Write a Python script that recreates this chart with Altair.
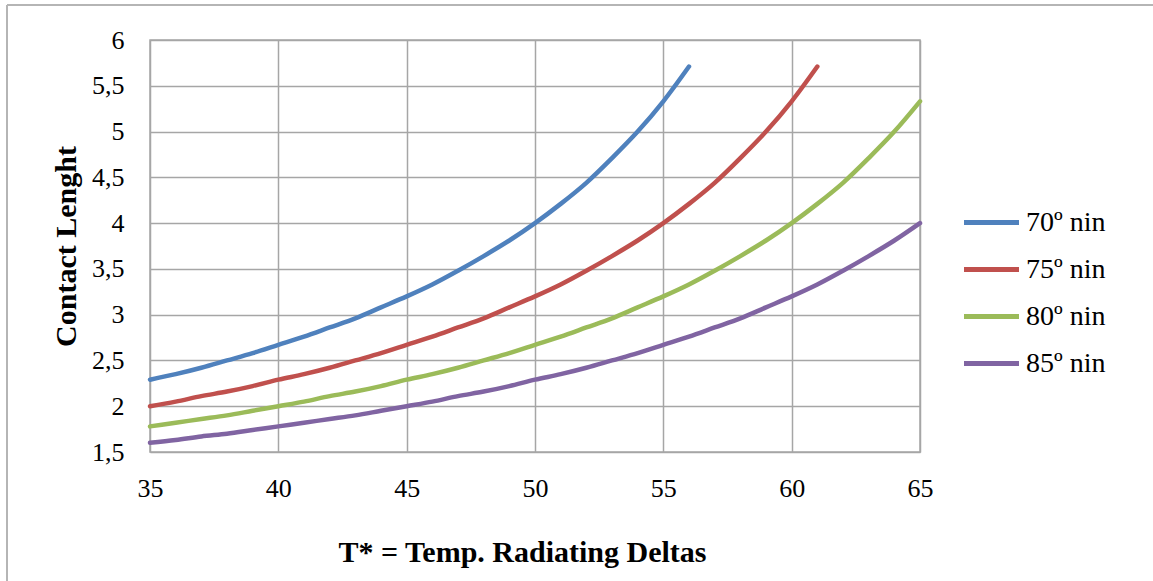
import altair as alt
import pandas as pd

series_names = ["70º nin", "75º nin", "80º nin", "85º nin"]
colors = ["#4F81BD", "#C0504D", "#9BBB59", "#8064A2"]

x_70 = list(range(35, 57))
y_70 = [2.29, 2.35, 2.42, 2.50, 2.58, 2.67, 2.76, 2.86, 2.96, 3.08, 3.20,
        3.33, 3.48, 3.64, 3.81, 4.00, 4.21, 4.44, 4.71, 5.00, 5.33, 5.71]

x_75 = list(range(35, 62))
y_75 = [2.00, 2.05, 2.11, 2.16, 2.22, 2.29, 2.35, 2.42, 2.50, 2.58, 2.67,
        2.76, 2.86, 2.96, 3.08, 3.20, 3.33, 3.48, 3.64, 3.81, 4.00, 4.21,
        4.44, 4.71, 5.00, 5.33, 5.71]

x_80 = list(range(35, 66))
y_80 = [1.78, 1.82, 1.86, 1.90, 1.95, 2.00, 2.05, 2.11, 2.16, 2.22, 2.29,
        2.35, 2.42, 2.50, 2.58, 2.67, 2.76, 2.86, 2.96, 3.08, 3.20, 3.33,
        3.48, 3.64, 3.81, 4.00, 4.21, 4.44, 4.71, 5.00, 5.33]

x_85 = list(range(35, 66))
y_85 = [1.60, 1.63, 1.67, 1.70, 1.74, 1.78, 1.82, 1.86, 1.90, 1.95, 2.00,
        2.05, 2.11, 2.16, 2.22, 2.29, 2.35, 2.42, 2.50, 2.58, 2.67, 2.76,
        2.86, 2.96, 3.08, 3.20, 3.33, 3.48, 3.64, 3.81, 4.00]

x_ticks = [35, 40, 45, 50, 55, 60, 65]
y_ticks = [1.5, 2, 2.5, 3, 3.5, 4, 4.5, 5, 5.5, 6]

rows = []
for name, xs, ys in zip(series_names, [x_70, x_75, x_80, x_85], [y_70, y_75, y_80, y_85]):
    for xv, yv in zip(xs, ys):
        rows.append({"T": xv, "L": yv, "series": name})
df = pd.DataFrame(rows)

FONT = "Liberation Serif"
GRID = "#a6a6a6"

lines = alt.Chart(df).mark_line(strokeWidth=4.5, strokeCap="round", strokeJoin="round",
                                interpolate="monotone").encode(
    x=alt.X("T:Q", scale=alt.Scale(domain=[35, 65], nice=False),
            axis=alt.Axis(values=x_ticks, title="T* = Temp. Radiating Deltas",
                          grid=True, gridColor=GRID, gridWidth=1.5,
                          domain=False, ticks=False, tickSize=0,
                          labelFlush=False, labelBound=False, labelOverlap=False,
                          labelFont=FONT, labelFontSize=26, labelColor="#000000",
                          labelBaseline="alphabetic", labelPadding=44,
                          titleFont=FONT, titleFontSize=30, titleFontWeight="bold",
                          titleColor="#000000", titleX=372, titleY=109,
                          titleAlign="center", titleBaseline="alphabetic")),
    y=alt.Y("L:Q", scale=alt.Scale(domain=[1.5, 6], nice=False, zero=False),
            axis=alt.Axis(values=y_ticks, title="Contact Lenght",
                          labelExpr="replace(format(datum.value, '.1~f'), '.', ',')",
                          grid=True, gridColor=GRID, gridWidth=1.5,
                          domain=False, ticks=False, tickSize=0,
                          labelFlush=False, labelBound=False, labelOverlap=False,
                          labelFont=FONT, labelFontSize=26, labelColor="#000000",
                          labelPadding=26,
                          titleFont=FONT, titleFontSize=30, titleFontWeight="bold",
                          titleColor="#000000", titleAngle=-90, titleX=-75, titleY=206,
                          titleAlign="center", titleBaseline="alphabetic")),
    color=alt.Color("series:N", scale=alt.Scale(domain=series_names, range=colors),
                    legend=alt.Legend(title=None, orient="none", legendX=825, legendY=166,
                                      symbolType="M-2,0H2", symbolSize=756,
                                      symbolStrokeWidth=5, rowPadding=16,
                                      labelFont=FONT, labelFontSize=28, labelColor="#000000",
                                      labelOffset=18)),
)

frame_left = alt.Chart(df).mark_rule(color="#b5b5b5", strokeWidth=2).encode(
    x=alt.value(-143), y=alt.value(-35), y2=alt.value(560))
frame_top = alt.Chart(df).mark_rule(color="#b5b5b5", strokeWidth=2).encode(
    x=alt.value(-143), x2=alt.value(1010), y=alt.value(-35))

chart = alt.layer(frame_left, frame_top, lines).properties(
    width=770, height=412,
    autosize=alt.AutoSizeParams(type="none"),
    padding={"left": 150, "top": 40, "right": 233, "bottom": 129},
    background="white",
).configure_view(stroke=GRID, strokeWidth=1.5)

chart.save("out.html", embed_options={"renderer": "svg", "actions": False})
